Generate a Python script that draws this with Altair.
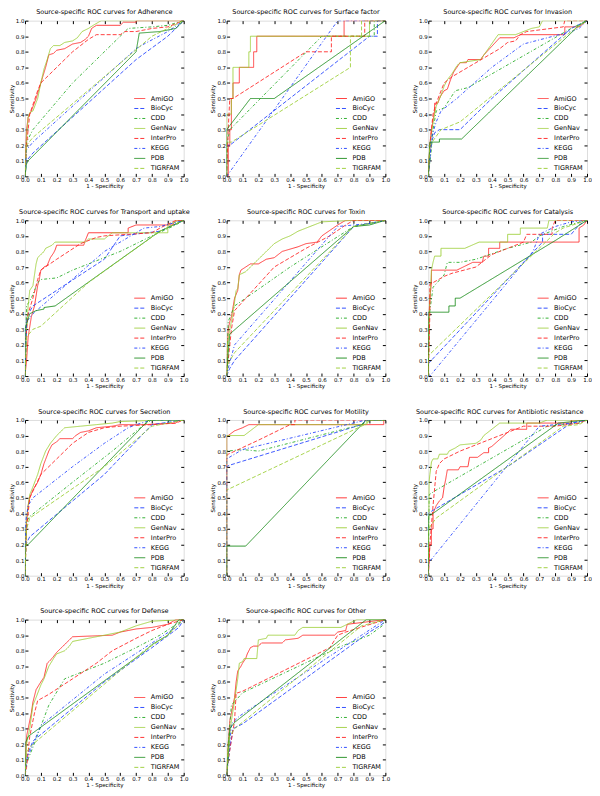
import altair as alt
import pandas as pd

SOURCES = ["AmiGO", "BioCyc", "CDD", "GenNav", "InterPro", "KEGG", "PDB", "TIGRFAM"]
COLORS = ["#ff2020", "#1f3fff", "#22aa22", "#9acd32", "#ff2020", "#1f3fff", "#118811", "#9acd32"]
DASHES = [[1, 0], [4, 2], [3, 2, 1, 2], [1, 0], [4, 2], [3, 2, 1, 2], [1, 0], [4, 2]]
WIDTHS = [1.0, 1.0, 1.0, 1.6, 1.0, 1.0, 1.0, 1.4]

TITLES = ["Adherence", "Surface factor", "Invasion", "Transport and uptake", "Toxin",
          "Catalysis", "Secretion", "Motility", "Antibiotic resistance", "Defense", "Other"]

ADHERENCE = {
    "AmiGO": [[0, 0], [0.005, 0.15], [0.01, 0.3], [0.02, 0.38], [0.04, 0.42], [0.07, 0.5], [0.1, 0.6], [0.13, 0.7], [0.15, 0.78], [0.18, 0.79], [0.2, 0.81], [0.25, 0.82], [0.3, 0.85], [0.35, 0.86], [0.38, 0.88], [0.4, 0.9], [0.42, 0.95], [0.45, 0.97], [0.6, 0.97], [0.62, 0.99], [0.7, 0.99], [0.7, 1.0], [1, 1]],
    "BioCyc": [[0, 0], [0.01, 0.1], [0.05, 0.15], [0.7, 0.75], [0.9, 0.9], [1, 1]],
    "CDD": [[0, 0], [0.01, 0.22], [0.05, 0.3], [0.3, 0.6], [0.45, 0.75], [0.6, 0.9], [0.65, 0.95], [0.8, 0.96], [0.9, 0.97], [1, 1]],
    "GenNav": [[0, 0], [0.01, 0.25], [0.02, 0.38], [0.03, 0.41], [0.05, 0.42], [0.08, 0.5], [0.1, 0.6], [0.12, 0.69], [0.14, 0.75], [0.16, 0.82], [0.18, 0.84], [0.22, 0.84], [0.25, 0.86], [0.3, 0.87], [0.33, 0.89], [0.36, 0.93], [0.4, 0.95], [0.43, 0.97], [0.48, 1.0], [1, 1]],
    "InterPro": [[0, 0], [0.01, 0.2], [0.03, 0.4], [0.08, 0.55], [0.1, 0.6], [0.2, 0.7], [0.3, 0.8], [0.4, 0.88], [0.45, 0.91], [0.6, 0.91], [0.63, 0.93], [0.7, 0.93], [0.8, 0.95], [0.9, 0.96], [1, 1]],
    "KEGG": [[0, 0], [0.01, 0.17], [0.05, 0.22], [0.7, 0.82], [0.75, 0.85], [0.9, 0.93], [1, 1]],
    "PDB": [[0, 0], [0.01, 0.08], [0.02, 0.1], [0.7, 0.8], [0.72, 0.92], [0.85, 0.93], [0.95, 0.95], [1, 1]],
    "TIGRFAM": [[0, 0], [0.01, 0.2], [0.05, 0.25], [0.8, 0.9], [0.9, 0.95], [1, 1]],
}

SURFACE_FACTOR = {
    "AmiGO": [[0, 0], [0.01, 0], [0.01, 0.2], [0.02, 0.2], [0.02, 0.3], [0.03, 0.3], [0.03, 0.5], [0.04, 0.5], [0.04, 0.6], [0.08, 0.6], [0.08, 0.7], [0.17, 0.7], [0.17, 0.8], [0.19, 0.8], [0.19, 0.9], [0.74, 0.9], [0.74, 1.0], [1, 1]],
    "BioCyc": [[0, 0], [0, 0.2], [0.02, 0.2], [0.9, 0.9], [0.95, 0.9], [0.95, 1.0], [1, 1]],
    "CDD": [[0, 0], [0, 0.2], [0.02, 0.3], [0.6, 0.9], [0.93, 0.9], [0.93, 1.0], [1, 1]],
    "GenNav": [[0, 0], [0, 0.4], [0.03, 0.4], [0.03, 0.5], [0.04, 0.5], [0.04, 0.7], [0.14, 0.7], [0.14, 0.8], [0.15, 0.8], [0.15, 0.9], [0.9, 0.9], [0.9, 1.0], [1, 1]],
    "InterPro": [[0, 0], [0.01, 0.3], [0.02, 0.5], [0.04, 0.5], [0.5, 0.8], [0.66, 0.8], [0.66, 0.9], [0.87, 0.9], [0.87, 1.0], [1, 1]],
    "KEGG": [[0, 0], [0.7, 1.0], [1, 1]],
    "PDB": [[0, 0], [0, 0.3], [0.15, 0.5], [0.3, 0.5], [1, 1]],
    "TIGRFAM": [[0, 0], [0, 0.22], [0.03, 0.22], [0.78, 0.7], [0.78, 0.9], [0.85, 0.9], [0.85, 1.0], [1, 1]],
}

INVASION = {
    "AmiGO": [[0, 0], [0.01, 0.2], [0.02, 0.3], [0.04, 0.42], [0.04, 0.47], [0.06, 0.47], [0.07, 0.5], [0.08, 0.52], [0.1, 0.55], [0.12, 0.56], [0.14, 0.62], [0.16, 0.67], [0.18, 0.7], [0.2, 0.73], [0.24, 0.73], [0.25, 0.75], [0.33, 0.75], [0.35, 0.78], [0.45, 0.89], [0.54, 0.89], [0.58, 0.91], [0.86, 0.91], [0.86, 0.96], [0.95, 0.96], [1, 1]],
    "BioCyc": [[0, 0], [0.02, 0.22], [0.04, 0.28], [0.07, 0.3], [0.2, 0.3], [0.4, 0.5], [0.9, 0.95], [1, 1]],
    "CDD": [[0, 0], [0.02, 0.18], [0.03, 0.3], [0.05, 0.42], [0.1, 0.44], [0.17, 0.55], [0.25, 0.57], [0.9, 0.95], [1, 1]],
    "GenNav": [[0, 0], [0.01, 0.2], [0.03, 0.35], [0.05, 0.45], [0.08, 0.52], [0.1, 0.58], [0.12, 0.62], [0.15, 0.66], [0.18, 0.71], [0.2, 0.73], [0.33, 0.75], [0.44, 0.91], [0.55, 0.91], [0.65, 0.95], [0.7, 0.96], [0.72, 1.0], [1, 1]],
    "InterPro": [[0, 0], [0.01, 0.2], [0.03, 0.4], [0.05, 0.47], [0.1, 0.6], [0.15, 0.64], [0.25, 0.7], [0.35, 0.76], [0.45, 0.82], [0.5, 0.86], [0.55, 0.87], [0.58, 0.91], [0.62, 0.93], [0.85, 0.96], [0.86, 1.0], [1, 1]],
    "KEGG": [[0, 0], [0.02, 0.25], [0.05, 0.35], [0.08, 0.42], [0.18, 0.5], [0.4, 0.7], [0.6, 0.85], [0.9, 0.93], [0.95, 0.95], [1, 1]],
    "PDB": [[0, 0], [0.01, 0.22], [0.07, 0.22], [0.07, 0.24], [0.21, 0.24], [0.95, 0.97], [1, 1]],
    "TIGRFAM": [[0, 0], [0.01, 0.2], [0.08, 0.3], [0.2, 0.35], [0.9, 0.93], [1, 1]],
}

TRANSPORT = {
    "AmiGO": [[0, 0], [0.01, 0.1], [0.02, 0.25], [0.04, 0.38], [0.06, 0.45], [0.08, 0.58], [0.09, 0.62], [0.1, 0.68], [0.12, 0.7], [0.14, 0.71], [0.16, 0.76], [0.18, 0.79], [0.19, 0.81], [0.2, 0.84], [0.37, 0.84], [0.38, 0.87], [0.4, 0.92], [0.65, 0.92], [0.65, 0.95], [0.7, 0.97], [0.93, 0.97], [0.95, 1.0], [1, 1]],
    "BioCyc": [[0, 0], [0.01, 0.38], [0.05, 0.45], [0.5, 0.75], [0.6, 0.9], [0.85, 0.93], [1, 1]],
    "CDD": [[0, 0], [0.01, 0.45], [0.04, 0.5], [0.08, 0.6], [0.1, 0.62], [0.2, 0.63], [0.3, 0.68], [0.6, 0.8], [0.8, 0.9], [0.95, 0.97], [1, 1]],
    "GenNav": [[0, 0], [0.01, 0.3], [0.02, 0.45], [0.03, 0.55], [0.05, 0.58], [0.07, 0.72], [0.08, 0.76], [0.12, 0.8], [0.13, 0.82], [0.15, 0.83], [0.17, 0.84], [0.19, 0.86], [0.38, 0.86], [0.4, 0.88], [0.5, 0.88], [0.55, 0.92], [0.9, 0.92], [0.9, 0.97], [0.97, 1.0], [1, 1]],
    "InterPro": [[0, 0], [0.01, 0.3], [0.02, 0.4], [0.05, 0.5], [0.08, 0.62], [0.1, 0.68], [0.2, 0.75], [0.35, 0.85], [0.45, 0.89], [0.5, 0.9], [0.8, 0.92], [0.85, 0.95], [0.95, 1.0], [1, 1]],
    "KEGG": [[0, 0], [0.01, 0.35], [0.05, 0.4], [0.5, 0.8], [0.75, 0.95], [0.85, 0.96], [1, 1]],
    "PDB": [[0, 0], [0, 0.3], [0.03, 0.4], [0.07, 0.42], [0.12, 0.43], [0.12, 0.44], [0.19, 0.45], [0.85, 0.93], [1, 1]],
    "TIGRFAM": [[0, 0], [0.01, 0.25], [0.05, 0.3], [0.1, 0.32], [0.4, 0.6], [0.85, 0.93], [1, 1]],
}

TOXIN = {
    "AmiGO": [[0, 0], [0.005, 0.2], [0.01, 0.3], [0.02, 0.35], [0.03, 0.38], [0.05, 0.5], [0.07, 0.55], [0.08, 0.65], [0.09, 0.68], [0.12, 0.7], [0.15, 0.72], [0.2, 0.72], [0.25, 0.75], [0.3, 0.76], [0.35, 0.8], [0.45, 0.83], [0.5, 0.85], [0.57, 0.86], [0.6, 0.9], [0.7, 0.97], [0.75, 1.0], [1, 1]],
    "BioCyc": [[0, 0], [0.02, 0.05], [0.05, 0.1], [0.8, 0.96], [0.95, 0.99], [1, 1]],
    "CDD": [[0, 0], [0.01, 0.35], [0.05, 0.45], [0.4, 0.7], [0.8, 0.96], [0.9, 0.98], [1, 1]],
    "GenNav": [[0, 0], [0.005, 0.2], [0.02, 0.3], [0.04, 0.4], [0.06, 0.55], [0.07, 0.56], [0.08, 0.65], [0.12, 0.67], [0.15, 0.7], [0.2, 0.75], [0.25, 0.8], [0.3, 0.85], [0.35, 0.88], [0.4, 0.9], [0.45, 0.93], [0.5, 0.95], [0.55, 0.97], [0.6, 0.99], [0.8, 1.0], [1, 1]],
    "InterPro": [[0, 0], [0.01, 0.1], [0.03, 0.3], [0.05, 0.42], [0.3, 0.7], [0.5, 0.82], [0.65, 0.9], [0.75, 0.97], [0.8, 1.0], [1, 1]],
    "KEGG": [[0, 0], [0.01, 0.05], [0.05, 0.2], [0.7, 0.96], [0.9, 0.98], [1, 1]],
    "PDB": [[0, 0], [0.01, 0.15], [0.02, 0.27], [0.8, 0.96], [0.9, 0.97], [1, 1]],
    "TIGRFAM": [[0, 0], [0.01, 0.08], [0.05, 0.15], [0.8, 0.96], [1, 1]],
}

CATALYSIS = {
    "AmiGO": [[0, 0], [0.005, 0.4], [0.01, 0.5], [0.02, 0.6], [0.02, 0.68], [0.18, 0.68], [0.22, 0.7], [0.28, 0.73], [0.34, 0.73], [0.35, 0.77], [0.38, 0.77], [0.38, 0.82], [0.45, 0.82], [0.45, 0.86], [0.95, 0.86], [0.95, 0.95], [0.98, 0.97], [1, 1]],
    "BioCyc": [[0, 0], [0, 0.08], [0.72, 0.86], [0.72, 0.91], [0.9, 0.91], [0.95, 0.97], [1, 1]],
    "CDD": [[0, 0], [0.005, 0.38], [0.03, 0.57], [0.1, 0.65], [0.12, 0.73], [0.2, 0.73], [0.3, 0.75], [0.5, 0.82], [0.65, 0.86], [0.7, 0.9], [0.85, 0.96], [1, 1]],
    "GenNav": [[0, 0], [0.005, 0.35], [0.01, 0.5], [0.02, 0.68], [0.03, 0.73], [0.04, 0.77], [0.08, 0.77], [0.08, 0.82], [0.23, 0.82], [0.32, 0.86], [0.5, 0.86], [0.5, 0.91], [0.58, 0.91], [0.58, 0.95], [0.75, 0.95], [0.76, 1.0], [1, 1]],
    "InterPro": [[0, 0], [0.01, 0.4], [0.01, 0.59], [0.03, 0.6], [0.1, 0.64], [0.15, 0.66], [0.3, 0.7], [0.4, 0.78], [0.6, 0.86], [0.62, 0.91], [0.78, 0.91], [0.78, 0.95], [0.8, 1.0], [1, 1]],
    "KEGG": [[0, 0], [0.01, 0], [0.66, 0.8], [0.7, 0.91], [0.8, 0.96], [0.9, 0.99], [1, 1]],
    "PDB": [[0, 0], [0, 0.41], [0.13, 0.41], [0.13, 0.45], [0.17, 0.45], [0.17, 0.5], [0.2, 0.5], [0.8, 0.87], [1, 1]],
    "TIGRFAM": [[0, 0], [0, 0.13], [0.8, 0.92], [0.85, 0.95], [1, 1]],
}

SECRETION = {
    "AmiGO": [[0, 0], [0.005, 0.2], [0.01, 0.35], [0.02, 0.45], [0.03, 0.5], [0.05, 0.55], [0.08, 0.6], [0.1, 0.65], [0.12, 0.72], [0.15, 0.8], [0.17, 0.84], [0.2, 0.86], [0.22, 0.88], [0.3, 0.88], [0.32, 0.9], [0.35, 0.92], [0.4, 0.93], [0.45, 0.95], [0.55, 0.96], [0.6, 0.97], [0.75, 0.97], [0.95, 0.98], [0.97, 1.0], [1, 1]],
    "BioCyc": [[0, 0], [0.005, 0.2], [0.03, 0.25], [0.5, 0.65], [0.8, 0.97], [1, 1]],
    "CDD": [[0, 0], [0.01, 0.35], [0.03, 0.38], [0.3, 0.6], [0.55, 0.8], [0.75, 0.97], [0.8, 1.0], [1, 1]],
    "GenNav": [[0, 0], [0.005, 0.3], [0.02, 0.45], [0.03, 0.52], [0.05, 0.57], [0.08, 0.65], [0.1, 0.72], [0.13, 0.8], [0.16, 0.85], [0.2, 0.9], [0.25, 0.95], [0.35, 0.96], [0.45, 0.97], [0.55, 0.98], [0.6, 0.99], [0.9, 1.0], [1, 1]],
    "InterPro": [[0, 0], [0.01, 0.3], [0.03, 0.5], [0.1, 0.65], [0.2, 0.75], [0.3, 0.85], [0.4, 0.92], [0.5, 0.95], [0.6, 0.96], [0.8, 0.97], [0.95, 0.98], [1, 1]],
    "KEGG": [[0, 0], [0.005, 0.35], [0.02, 0.45], [0.05, 0.5], [0.3, 0.7], [0.5, 0.85], [0.65, 0.95], [0.7, 0.97], [0.8, 1.0], [1, 1]],
    "PDB": [[0, 0], [0, 0.2], [0.02, 0.2], [0.78, 1.0], [1, 1]],
    "TIGRFAM": [[0, 0], [0.01, 0.3], [0.03, 0.37], [0.5, 0.7], [0.8, 0.96], [1, 1]],
}

MOTILITY = {
    "AmiGO": [[0, 0], [0, 0.9], [0.01, 0.9], [0.05, 0.93], [0.1, 0.95], [0.14, 0.97], [0.99, 0.97], [0.99, 1.0], [1, 1]],
    "BioCyc": [[0, 0], [0, 0.7], [0.02, 0.71], [0.85, 0.97], [0.88, 1.0], [1, 1]],
    "CDD": [[0, 0], [0, 0.8], [0.1, 0.81], [0.2, 0.8], [0.85, 0.97], [0.9, 1.0], [1, 1]],
    "GenNav": [[0, 0], [0, 0.9], [0.11, 0.9], [0.2, 0.97], [0.88, 0.97], [0.9, 1.0], [1, 1]],
    "InterPro": [[0, 0], [0, 0.77], [0.01, 0.78], [0.2, 0.87], [0.4, 0.97], [0.43, 0.97], [0.43, 1.0], [1, 1]],
    "KEGG": [[0, 0], [0, 0.75], [0.1, 0.81], [0.88, 1.0], [1, 1]],
    "PDB": [[0, 0], [0, 0.19], [0.12, 0.19], [0.88, 1.0], [1, 1]],
    "TIGRFAM": [[0, 0], [0, 0.55], [0.87, 0.97], [0.9, 1.0], [1, 1]],
}

ANTIBIOTIC = {
    "AmiGO": [[0, 0], [0.01, 0.2], [0.02, 0.2], [0.02, 0.3], [0.03, 0.3], [0.03, 0.4], [0.05, 0.45], [0.07, 0.48], [0.09, 0.5], [0.1, 0.57], [0.11, 0.62], [0.12, 0.68], [0.19, 0.68], [0.2, 0.7], [0.25, 0.7], [0.26, 0.76], [0.31, 0.76], [0.35, 0.79], [0.38, 0.79], [0.38, 0.82], [0.4, 0.83], [0.5, 0.92], [0.52, 0.94], [0.62, 0.94], [0.62, 0.98], [0.9, 0.98], [0.9, 1.0], [1, 1]],
    "BioCyc": [[0, 0], [0, 0.4], [0.03, 0.42], [0.5, 0.7], [0.9, 0.98], [1, 1]],
    "CDD": [[0, 0], [0.005, 0.52], [0.05, 0.55], [0.75, 0.96], [0.95, 0.98], [1, 1]],
    "GenNav": [[0, 0], [0.005, 0.6], [0.01, 0.65], [0.02, 0.73], [0.03, 0.75], [0.06, 0.75], [0.07, 0.78], [0.12, 0.78], [0.13, 0.8], [0.17, 0.82], [0.2, 0.84], [0.3, 0.85], [0.33, 0.87], [0.35, 0.9], [0.45, 0.98], [0.7, 0.98], [0.75, 1.0], [1, 1]],
    "InterPro": [[0, 0], [0.01, 0.2], [0.03, 0.45], [0.05, 0.67], [0.07, 0.72], [0.1, 0.75], [0.2, 0.8], [0.3, 0.84], [0.4, 0.88], [0.5, 0.92], [0.6, 0.96], [0.8, 0.96], [0.95, 0.98], [1, 1]],
    "KEGG": [[0, 0], [0, 0.08], [0.7, 0.96], [0.9, 0.98], [1, 1]],
    "PDB": [[0, 0], [0, 0.38], [0.03, 0.4], [0.82, 0.98], [1, 1]],
    "TIGRFAM": [[0, 0], [0, 0.3], [0.05, 0.37], [0.85, 0.96], [0.95, 0.97], [1, 1]],
}

DEFENSE = {
    "AmiGO": [[0, 0], [0.01, 0.25], [0.02, 0.3], [0.04, 0.4], [0.05, 0.47], [0.07, 0.55], [0.1, 0.6], [0.12, 0.63], [0.14, 0.72], [0.17, 0.75], [0.2, 0.79], [0.23, 0.82], [0.27, 0.86], [0.3, 0.89], [0.55, 0.9], [0.6, 0.92], [0.65, 0.93], [0.7, 0.94], [0.8, 0.95], [0.9, 0.97], [0.95, 1.0], [1, 1]],
    "BioCyc": [[0, 0], [0.01, 0.12], [0.05, 0.22], [0.5, 0.6], [0.8, 0.82], [0.97, 0.95], [1, 1]],
    "CDD": [[0, 0], [0.01, 0.08], [0.05, 0.18], [0.15, 0.45], [0.25, 0.62], [0.5, 0.72], [0.7, 0.82], [0.85, 0.9], [1, 1]],
    "GenNav": [[0, 0], [0.01, 0.2], [0.03, 0.3], [0.05, 0.45], [0.07, 0.5], [0.1, 0.58], [0.12, 0.62], [0.15, 0.7], [0.18, 0.75], [0.2, 0.78], [0.25, 0.8], [0.28, 0.83], [0.3, 0.86], [0.4, 0.88], [0.5, 0.9], [0.6, 0.92], [0.7, 0.96], [0.8, 0.99], [1, 1]],
    "InterPro": [[0, 0], [0.01, 0.05], [0.03, 0.25], [0.06, 0.4], [0.08, 0.48], [0.15, 0.52], [0.3, 0.62], [0.45, 0.72], [0.55, 0.8], [0.7, 0.88], [0.8, 0.93], [0.9, 0.97], [1, 1]],
    "KEGG": [[0, 0], [0.01, 0.1], [0.05, 0.2], [0.1, 0.32], [0.5, 0.65], [0.8, 0.85], [0.95, 0.95], [1, 1]],
    "PDB": [[0, 0], [0, 0.2], [0.02, 0.25], [0.76, 0.8], [0.8, 0.84], [0.9, 0.9], [0.97, 1.0], [1, 1]],
    "TIGRFAM": [[0, 0], [0.01, 0.15], [0.05, 0.2], [0.75, 0.8], [0.9, 0.9], [1, 1]],
}

OTHER = {
    "AmiGO": [[0, 0], [0.01, 0.2], [0.02, 0.35], [0.04, 0.45], [0.05, 0.5], [0.06, 0.6], [0.07, 0.67], [0.09, 0.7], [0.1, 0.72], [0.12, 0.75], [0.13, 0.78], [0.15, 0.82], [0.17, 0.83], [0.2, 0.83], [0.22, 0.85], [0.35, 0.85], [0.37, 0.87], [0.45, 0.88], [0.48, 0.9], [0.68, 0.9], [0.7, 0.92], [0.75, 0.93], [0.76, 0.97], [1, 1]],
    "BioCyc": [[0, 0], [0.01, 0.1], [0.04, 0.3], [0.1, 0.33], [0.9, 0.92], [0.98, 0.97], [1, 1]],
    "CDD": [[0, 0], [0.01, 0.2], [0.03, 0.45], [0.1, 0.53], [0.7, 0.82], [0.9, 0.9], [0.98, 0.96], [1, 1]],
    "GenNav": [[0, 0], [0.01, 0.2], [0.03, 0.35], [0.05, 0.48], [0.07, 0.62], [0.08, 0.72], [0.1, 0.73], [0.11, 0.75], [0.19, 0.75], [0.2, 0.87], [0.25, 0.88], [0.26, 0.9], [0.43, 0.9], [0.45, 0.93], [0.48, 0.95], [0.72, 0.95], [0.82, 1.0], [1, 1]],
    "InterPro": [[0, 0], [0.01, 0.1], [0.05, 0.35], [0.06, 0.53], [0.07, 0.53], [0.1, 0.54], [0.65, 0.82], [0.7, 0.9], [0.75, 0.92], [1, 1]],
    "KEGG": [[0, 0], [0.02, 0.2], [0.03, 0.33], [0.08, 0.38], [0.85, 0.9], [1, 1]],
    "PDB": [[0, 0], [0.01, 0.12], [0.02, 0.3], [0.05, 0.34], [0.88, 1.0], [1, 1]],
    "TIGRFAM": [[0, 0], [0.02, 0.25], [0.05, 0.3], [0.85, 0.96], [1, 1]],
}

PANELS = [ADHERENCE, SURFACE_FACTOR, INVASION, TRANSPORT, TOXIN, CATALYSIS,
          SECRETION, MOTILITY, ANTIBIOTIC, DEFENSE, OTHER]

TICKS = [round(i * 0.1, 1) for i in range(11)]
FONT = "DejaVu Sans"
W, H = 159, 156

# legend symbol style looked up by entry label (same styles as the lines)
DASH_EXPR = ("indexof(['BioCyc','InterPro','TIGRFAM'], datum.value) >= 0 ? [4,2] : "
             "(indexof(['CDD','KEGG'], datum.value) >= 0 ? [3,2,1,2] : [1,0])")
WIDTH_EXPR = "datum.value === 'GenNav' ? 2 : (datum.value === 'TIGRFAM' ? 1.7 : 1.3)"
COLOR_EXPR = ("indexof(['AmiGO','InterPro'], datum.value) >= 0 ? '#ff2020' : "
              "(indexof(['BioCyc','KEGG'], datum.value) >= 0 ? '#1f3fff' : "
              "(datum.value === 'CDD' ? '#22aa22' : (datum.value === 'PDB' ? '#118811' : '#9acd32')))")


def make_df(panel):
    rows = []
    for s in SOURCES:
        for i, (x, y) in enumerate(panel[s]):
            rows.append({"source": s, "x": x, "y": y, "i": i})
    return pd.DataFrame(rows)


def make_panel(title, panel):
    df = make_df(panel)
    legend = alt.Legend(orient="bottom-right", title=None, symbolType="stroke",
                        symbolSize=120, symbolOpacity=0.9,
                        symbolDash=alt.ExprRef(expr=DASH_EXPR),
                        symbolStrokeWidth=alt.ExprRef(expr=WIDTH_EXPR),
                        symbolStrokeColor=alt.ExprRef(expr=COLOR_EXPR),
                        labelFontSize=6.5, labelFont=FONT, rowPadding=0, padding=0,
                        offset=4, labelOffset=5, labelColor="black")
    xs = alt.Scale(domain=[0, 1], nice=False, zero=False)
    ys = alt.Scale(domain=[0, 1], nice=False, zero=False)
    lines = alt.Chart(df).mark_line(opacity=0.85, clip=True).encode(
        x=alt.X("x:Q", scale=xs, axis=alt.Axis(
            orient="bottom", values=TICKS, format=".1f", title="1 - Specificity",
            labelFontSize=5.5, labelFont=FONT, labelFlush=False, labelPadding=1,
            labelOverlap=False, tickSize=3, offset=-3, domain=False, grid=False,
            tickColor="black", labelColor="black", titleFontSize=5.5, titleFont=FONT,
            titleFontWeight="normal", titlePadding=1, titleColor="black")),
        y=alt.Y("y:Q", scale=ys, axis=alt.Axis(
            orient="left", values=TICKS, format=".1f", title="Sensitivity",
            labelFontSize=5.5, labelFont=FONT, labelFlush=False, labelPadding=1,
            labelOverlap=False, tickSize=3, offset=-3, domain=False, grid=False,
            tickColor="black", labelColor="black", titleFontSize=5.5, titleFont=FONT,
            titleFontWeight="normal", titlePadding=1, titleColor="black")),
        color=alt.Color("source:N", scale=alt.Scale(domain=SOURCES, range=COLORS), legend=legend),
        strokeDash=alt.StrokeDash("source:N", scale=alt.Scale(domain=SOURCES, range=DASHES), legend=None),
        strokeWidth=alt.StrokeWidth("source:N", scale=alt.Scale(domain=SOURCES, range=WIDTHS), legend=None),
        order=alt.Order("i:Q"),
    )
    frame = alt.Chart(df).mark_point(opacity=0).encode(
        x=alt.X("x:Q", scale=xs, axis=alt.Axis(
            orient="top", values=TICKS, labels=False, title=None, tickSize=3,
            offset=-3, domain=False, grid=False, tickColor="black")),
        y=alt.Y("y:Q", scale=ys, axis=alt.Axis(
            orient="right", values=TICKS, labels=False, title=None, tickSize=3,
            offset=-3, domain=False, grid=False, tickColor="black")),
    )
    dx = -8 if title == "Antibiotic resistance" else 0
    return alt.layer(lines, frame).resolve_axis(x="independent", y="independent").properties(
        width=W, height=H,
        title=alt.TitleParams("Source-specific ROC curves for " + title, fontSize=6.5,
                              font=FONT, fontWeight="normal", offset=2, anchor="middle",
                              dx=dx, color="black"),
    )


charts = [make_panel(t, p) for t, p in zip(TITLES, PANELS)]
chart = alt.concat(*charts, columns=3, spacing={"row": 44, "column": 43}, bounds="flush").resolve_scale(
    color="independent", strokeDash="independent", strokeWidth="independent"
).properties(
    padding=0
).configure_view(stroke="black", strokeWidth=0.8).configure(background="white")

chart.save("out.html", embed_options={"renderer": "svg", "actions": False})
